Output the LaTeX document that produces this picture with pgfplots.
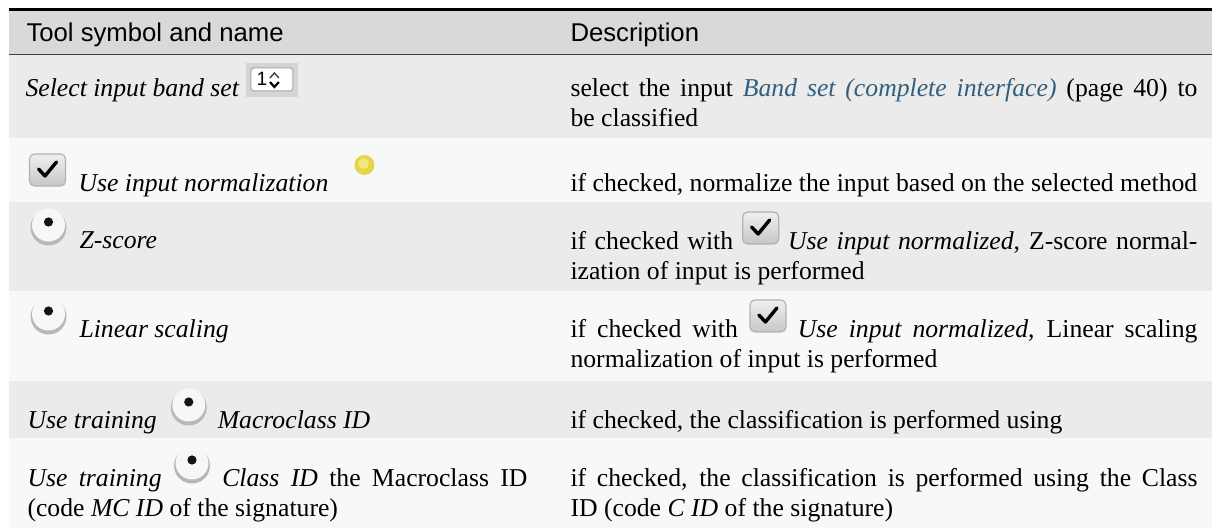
\documentclass[border=0pt]{standalone}
\usepackage{pgfplots}
\pgfplotsset{compat=1.18}
\usepackage{fontspec}
\setmainfont{Liberation Serif}
\setsansfont{Liberation Sans}
\newlength\px
\setlength\px{0.389pt}
\definecolor{hdr}{HTML}{D9D9D9}
\definecolor{rowa}{HTML}{EBEBEB}
\definecolor{rowb}{HTML}{F8F8F8}
\definecolor{link}{HTML}{325F7D}
\definecolor{dotc}{HTML}{E4D646}
\definecolor{dotl}{HTML}{F0E77C}
\newcommand\cbox{\tikz[baseline={(0pt,-6\px)}]{%
  \path (0pt,-6\px) rectangle (38\px,0pt);
  \draw[rounded corners=5\px, draw=black!30, line width=1.2\px, top color=black!6, bottom color=black!22] (1\px,0pt) rectangle (37\px,32\px);
  \draw[line width=3.4\px, line cap=round, line join=round] (10\px,17\px) -- (16.5\px,10\px) -- (28\px,24\px);}}
\newcommand\radio{\tikz[baseline={(0pt,-4\px)}]{%
  \path (0pt,-4\px) rectangle (38\px,0pt);
  \fill[black!28] (19\px,17.5\px) circle[radius=18\px];
  \fill[black!3] (19\px,20\px) circle[radius=16.5\px];
  \fill[black!92] (19\px,23\px) circle[radius=4.6\px];}}
\newcommand\spin{\tikz[baseline={(0pt,0pt)}]{%
  \fill[black!17] (0pt,0pt) rectangle (52\px,34\px);
  \filldraw[fill=white, draw=black!35, line width=1\px, rounded corners=3\px] (5\px,6\px) rectangle (47\px,29\px);
  \node[anchor=center, inner sep=0pt, font=\fontsize{7.5}{8}\sffamily] at (16\px,18\px) {1};
  \draw[line width=1.4\px, black!75] (24\px,19\px) -- (28.5\px,24\px) -- (33\px,19\px);
  \draw[line width=2.2\px] (24\px,15\px) -- (28.5\px,10\px) -- (33\px,15\px);}}
\newcommand\ydot{\tikz[baseline={(0pt,0pt)}]{%
  \path (0pt,0pt) rectangle (20\px,1\px);
  \fill[dotc] (10\px,27\px) circle[radius=10\px];
  \fill[dotl] (9\px,28.5\px) circle[radius=5.5\px];}}
\begin{document}
\begin{tikzpicture}
\begin{axis}[width=471.47pt, height=205.39pt, scale only axis,
  xmin=0, xmax=1212, ymin=0, ymax=528, y dir=reverse, hide axis, clip=true,
  nodes={inner sep=0pt, anchor=base west, font=\fontsize{10}{12}\selectfont}]
\addplot[fill=white, draw=none] coordinates {(0,0) (1212,0) (1212,528) (0,528)} --cycle;
\addplot[fill=hdr, draw=none] coordinates {(9,9) (1212,9) (1212,55) (9,55)} --cycle;
\addplot[fill=rowa, draw=none] coordinates {(9,55) (1212,55) (1212,138) (9,138)} --cycle;
\addplot[fill=rowb, draw=none] coordinates {(9,138) (1212,138) (1212,202) (9,202)} --cycle;
\addplot[fill=rowa, draw=none] coordinates {(9,202) (1212,202) (1212,291) (9,291)} --cycle;
\addplot[fill=rowb, draw=none] coordinates {(9,291) (1212,291) (1212,381) (9,381)} --cycle;
\addplot[fill=rowa, draw=none] coordinates {(9,381) (1212,381) (1212,438) (9,438)} --cycle;
\addplot[fill=rowb, draw=none] coordinates {(9,438) (1212,438) (1212,528) (9,528)} --cycle;
\addplot[black, line width=2.2\px] coordinates {(9,9.5) (1212,9.5)};
\addplot[black!75, line width=1.5\px] coordinates {(9,54.5) (1212,54.5)};
% header
\node[font=\fontsize{10}{12}\sffamily] at (axis cs:26,42) {Tool symbol and name};
\node[font=\fontsize{10}{12}\sffamily] at (axis cs:570,42) {Description};
% row 1
\node at (axis cs:25,97) {\textit{Select input band set} \spin};
\node at (axis cs:570,97) {\makebox[627\px][s]{select the input \textit{\color{link}Band set (complete interface)} (page 40) to}};
\node at (axis cs:570,127) {be classified};
% row 2
\node at (axis cs:28,192) {\cbox\hspace{12\px}\textit{Use input normalization}\hspace{26\px}\ydot};
\node at (axis cs:570,192) {if checked, normalize the input based on the selected method};
% row 3
\node at (axis cs:29,249) {\radio\hspace{12\px}\textit{Z-score}};
\node at (axis cs:570,250) {\makebox[627\px][s]{if checked with \cbox{} \textit{Use input normalized}, Z-score normal-}};
\node at (axis cs:570,280) {ization of input is performed};
% row 4
\node at (axis cs:29,338) {\radio\hspace{12\px}\textit{Linear scaling}};
\node at (axis cs:570,338) {\makebox[627\px][s]{if checked with \cbox{} \textit{Use input normalized}, Linear scaling}};
\node at (axis cs:570,368) {normalization of input is performed};
% row 5
\node at (axis cs:27,429) {\textit{Use training}\hspace{13\px}\radio\hspace{10\px}\textit{Macroclass ID}};
\node at (axis cs:570,429) {if checked, the classification is performed using};
% row 6
\node at (axis cs:27,487) {\makebox[500\px][s]{\textit{Use training} \radio{} \textit{Class ID} the Macroclass ID}};
\node at (axis cs:27,517) {(code \textit{MC ID} of the signature)};
\node at (axis cs:570,487) {\makebox[627\px][s]{if checked, the classification is performed using the Class}};
\node at (axis cs:570,517) {ID (code \textit{C ID} of the signature)};
\end{axis}
\end{tikzpicture}
\end{document}
